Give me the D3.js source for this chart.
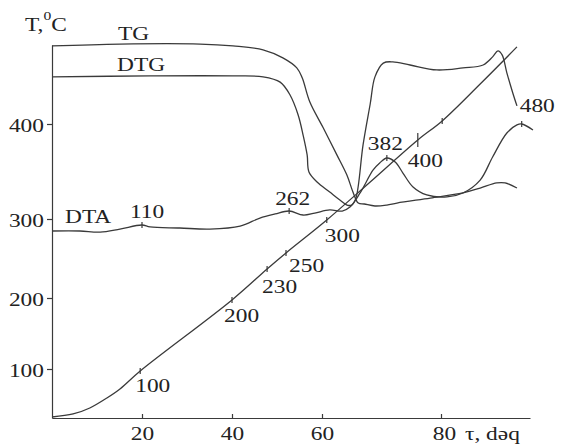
<!DOCTYPE html>
<html lang="az">
<head>
<meta charset="UTF-8">
<title>TG DTG DTA</title>
<style>
  body { margin: 0; background: #fff; }
  text { font-family: "Liberation Serif", "Times New Roman", serif; fill: #222; }
</style>
</head>
<body>
<script src="https://cdn.jsdelivr.net/npm/d3@7/dist/d3.min.js"></script>
<script>
// time, min  /  temperature-axis units
var xTicks = [20, 40, 60, 80];
var yTicks = [100, 200, 300, 400];

var tgCurve = [[0,482],[15.1,484],[32.9,484],[40.2,482],[46.9,478],[51.3,469.5],[54.4,459],[55.6,448.5],
  [57.3,423],[60.2,396],[62.5,367.5],[64.2,346],[65.2,328.5],[66.1,316.8],[67.1,315.8],[68.9,313.7],
  [70.9,314.7],[72.6,316.8],[78.2,322],[83.7,327.4],[86.6,332.6],[89.4,338],[90.8,338],[92.8,332.6]];

var dtgCurve = [[0,449.5],[21.8,450.5],[40.2,450.5],[46.9,449.5],[50.7,444],[52.9,430.5],[54.7,409.5],
  [55.8,388.4],[56.7,367.4],[57.1,349.5],[58.9,339],[61.3,328.4],[63,320],[64.2,314.7],[65,314.7],
  [65.7,322],[66.9,378],[68.1,421],[68.9,449.5],[70.3,464],[71.9,465.3],[74.8,462],[79.3,456.8],
  [83.7,459],[87.1,462],[88.7,470.5],[89.6,476.8],[90.3,472.6],[91.1,453.7],[92.1,432.6],[92.8,419]];

var dtaCurve = [[0,284.8],[6.2,284.8],[10.7,283.5],[15.1,287.3],[20,292.4],[21.8,289.9],[28.4,288.6],
  [35.1,287.3],[41.8,291],[46.2,301],[49.6,305.3],[52.7,308.4],[55.8,304.2],[58.4,306.3],[61.3,309.5],
  [63.4,308.4],[64.7,312.6],[66.4,327.4],[68.6,351.6],[69.7,359],[70.9,364.2],[72.3,360],[73.6,348.4],
  [75.3,333.7],[77.6,325.3],[81,323.2],[83.7,327.4],[86.6,341],[88.7,365.3],[91.1,390.5],[92.8,399],
  [93.6,400],[95.5,393.7]];

var tCurve = [[0,2],[4.7,8.2],[8.4,20.4],[12.2,40.8],[15.1,59.2],[19.6,95.9],[40,197.2],[47.8,236.7],
  [52,257],[60.8,298.7],[68.1,339],[76.1,383.2],[80.2,403.2],[86.6,442],[92.8,481]];

var tMarks = [[19.6,95.9],[40,197.2],[47.8,236.7],[52,257],[60.8,298.7],[76.1,383.2],[80.2,403.2]];
var tMarkLabels = ["100","200","230","250","300","400",""];
var dtaMarks = [[20,292.4],[52.7,308.4],[70.9,364.2],[93.6,400]];
var dtaMarkLabels = ["110","262","382","480"];

var width = 561, height = 446;
var fs = 19.5, sx = 1.2;

var svg = d3.select("body").append("svg")
  .attr("width", width).attr("height", height);

// the printed axes are not uniform, so both scales are piecewise
var x = d3.scaleLinear().domain([0, 20, 40, 60, 80, 95]).range([52, 142, 232, 322, 441, 530]);
var y = d3.scaleLinear().domain([0, 100, 200, 300, 400, 483]).range([418, 369, 298, 219, 124, 45]);

var ink = "#3a3a3a";

function label(txt, px, py, anchor) {
  return svg.append("text")
    .attr("transform", "translate(" + px + "," + py + ") scale(" + sx + ",1)")
    .attr("text-anchor", anchor || "start")
    .attr("font-size", fs)
    .text(txt);
}

// axes
var yAxis = svg.append("g").attr("transform", "translate(52,0)")
  .call(d3.axisLeft(y).tickValues(yTicks).tickSize(5).tickSizeOuter(0));
yAxis.selectAll("text")
  .attr("x", -8 / sx).attr("dy", "0.38em")
  .attr("transform", "scale(" + sx + ",1)")
  .attr("font-size", fs).attr("font-family", null);

var xAxis = svg.append("g").attr("transform", "translate(0,418)")
  .call(d3.axisBottom(x).tickValues(xTicks).tickSize(-4).tickSizeOuter(0));
xAxis.selectAll("text")
  .attr("y", 22).attr("dy", null)
  .attr("transform", "scale(" + sx + ",1)")
  .attr("x", function(d) { return d === 80 ? 3 / sx : 0; })
  .attr("font-size", fs).attr("font-family", null);

svg.selectAll(".domain, .tick line").attr("stroke", ink).attr("stroke-width", 1.2);

// curves
var line = d3.line()
  .x(function(d) { return x(d[0]); })
  .y(function(d) { return y(d[1]); })
  .curve(d3.curveCatmullRom.alpha(0.5));

[tgCurve, dtgCurve, dtaCurve, tCurve].forEach(function(c) {
  svg.append("path")
    .attr("d", line(c))
    .attr("fill", "none")
    .attr("stroke", ink)
    .attr("stroke-width", 1.3);
});

// small marks across the curves
svg.selectAll(".tmark")
  .data(tMarks).enter().append("line")
  .attr("x1", function(d) { return x(d[0]); })
  .attr("x2", function(d) { return x(d[0]); })
  .attr("y1", function(d, i) { return y(d[1]) - (i === 5 ? 7 : 3); })
  .attr("y2", function(d, i) { return y(d[1]) + (i === 5 ? 7 : 3); })
  .attr("stroke", ink).attr("stroke-width", 1.2);

svg.selectAll(".dmark")
  .data(dtaMarks).enter().append("line")
  .attr("x1", function(d) { return x(d[0]); })
  .attr("x2", function(d) { return x(d[0]); })
  .attr("y1", function(d) { return y(d[1]) - 3; })
  .attr("y2", function(d) { return y(d[1]) + 3; })
  .attr("stroke", ink).attr("stroke-width", 1.2);

var tOff = [[-5,21],[-8,22],[-5,24],[3,19],[-2,22],[-10,27],[0,0]];
tMarks.forEach(function(d, i) {
  if (tMarkLabels[i]) label(tMarkLabels[i], x(d[0]) + tOff[i][0], y(d[1]) + tOff[i][1]);
});

var dOff = [[-12,-7],[-14,-6],[-19,-8],[-2,-12]];
dtaMarks.forEach(function(d, i) {
  label(dtaMarkLabels[i], x(d[0]) + dOff[i][0], y(d[1]) + dOff[i][1]);
});

// curve names and axis titles
label("TG", 118, 40);
label("DTG", 117, 71);
label("DTA", 65, 223);
label("τ, dəq", 465, 440);

var ttl = svg.append("text")
  .attr("transform", "translate(25,31) scale(" + sx + ",1)")
  .attr("font-size", fs);
ttl.append("tspan").text("T,");
ttl.append("tspan").attr("font-size", 13).attr("dy", -11).text("0");
ttl.append("tspan").attr("dy", 11).text("C");
</script>
</body>
</html>
